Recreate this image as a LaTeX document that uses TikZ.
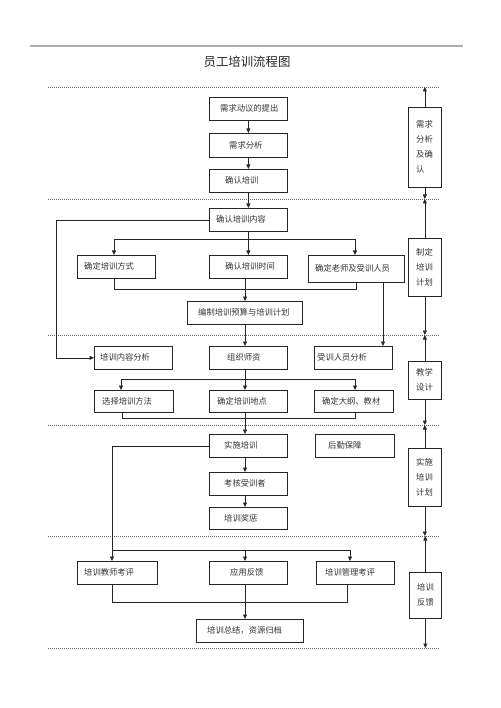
\documentclass[tikz,border=0pt]{standalone}
\usepackage{fontspec}
\newfontfamily\cjk{Noto Sans CJK SC}
\usetikzlibrary{arrows.meta,calc}
\tikzset{
 box/.style={draw=black!85, line width=0.7pt, inner sep=0pt, anchor=north west},
 lbl/.style={font=\cjk\fontsize{8.3}{15}\selectfont, text=black!80, anchor=west, inner sep=0pt},
 slbl/.style={lbl, align=left},
 arr/.style={-{Triangle[length=4.5pt,width=4pt]}, line width=0.6pt, draw=black!85},
 ln/.style={line width=0.6pt, draw=black!85},
 sep/.style={draw=black!60, line width=0.6pt, dash pattern=on 1pt off 1pt},
}
\newcommand\bx[7]{\node[box, minimum width={#4-#2}, minimum height={#5-#3}] (#1) at (#2,#3) {};
 \node[lbl] (#1t) at (#6,{(#3+#5)/2}) {#7};}
\newcommand\sbx[6]{\node[box, minimum width={#4-#2}, minimum height={#5-#3}] (#1) at (#2,#3) {};
 \node[slbl] (#1t) at ({#2+8},{(#3+#5)/2}) {#6};}
\begin{document}
\begin{tikzpicture}[x=1pt,y=-1pt]
\useasboundingbox (0,0) rectangle (500,708);
% top rule and title
\coordinate (tl) at (30,46); \coordinate (tr) at (463,46);
\draw[gray!65, line width=1.6pt] (tl) -- (tr);
\node[font=\cjk\fontsize{12.4}{14}\selectfont, text=black!85] (title) at (247,62) {员工培训流程图};
% dashed separators
\foreach \n/\y in {0/87,1/199,2/335,3/425,4/536,5/648}{
  \coordinate (d\n l) at (48,\y); \coordinate (d\n) at (440,\y);
  \draw[sep] (d\n l) -- (d\n);
}
% section 1
\bx{b1}{209}{97}{287}{120}{220}{需求动议的提出}
\bx{b2}{209}{133}{287}{157}{229}{需求分析}
\bx{b3}{209}{169}{287}{192}{225}{确认培训}
% section 2
\bx{b4}{209}{208}{287}{231}{216}{确认培训内容}
\bx{b5}{77}{255}{155}{278}{84}{确定培训方式}
\bx{b6}{209}{255}{287}{278}{225}{确认培训时间}
\bx{b7}{308}{255}{404}{282}{315}{确定老师及受训人员}
\bx{b8}{187}{301}{302}{324}{198}{编制培训预算与培训计划}
% section 3
\bx{c1}{94}{346}{172}{369}{100}{培训内容分析}
\bx{c2}{209}{346}{287}{369}{227}{组织师资}
\bx{c3}{314}{346}{392}{369}{317}{受训人员分析}
\bx{e1}{94}{390}{173}{412}{102}{选择培训方法}
\bx{e2}{209}{390}{287}{412}{217}{确定培训地点}
\bx{e3}{314}{390}{393}{412}{322}{确定大纲、教材}
% section 4
\bx{f1}{209}{434}{287}{457}{224}{实施培训}
\bx{f2}{315}{434}{394}{457}{328}{后勤保障}
\bx{f3}{209}{472}{287}{495}{224}{考核受训者}
\bx{f4}{209}{507}{287}{529}{224}{培训奖惩}
% section 5
\bx{g1}{77}{561}{157}{584}{84}{培训教师考评}
\bx{g2}{209}{561}{287}{584}{230}{应用反馈}
\bx{g3}{316}{561}{394}{584}{325}{培训管理考评}
\bx{h1}{196}{619}{303}{642}{207}{培训总结，资源归档}
% side boxes
\sbx{s1}{408}{107}{441}{187}{需求\\分析\\及确\\认}
\sbx{s2}{408}{238}{441}{296}{制定\\培训\\计划}
\sbx{s3}{408}{361}{441}{399}{教学\\设计}
\sbx{s4}{408}{448}{441}{506}{实施\\培训\\计划}
\sbx{s5}{409}{572}{441}{618}{培训\\反馈}
% side arrows
\draw[arr] (s1.north) -- (s1.north |- d0);
\draw[arr] (s1.south) -- (s1.south |- d1);
\draw[arr] (s2.north) -- (s2.north |- d1);
\draw[arr] (s2.south) -- (s2.south |- d2);
\draw[arr] (s3.north) -- (s3.north |- d2);
\draw[arr] (s3.south) -- (s3.south |- d3);
\draw[arr] (s4.north) -- (s4.north |- d3);
\draw[arr] (s4.south) -- (s4.south |- d4);
\draw[arr] (s5.north) -- (s5.north |- d4);
\draw[arr] (s5.south) -- (s5.south |- d5);
% section 1 flow
\draw[arr] (b1.south) -- (b2.north);
\draw[arr] (b2.south) -- (b3.north);
\draw[arr] (b3.south) -- (b4.north);
% section 2 flow
\coordinate (j1) at (114,239); \coordinate (j2) at (355,239);
\draw[ln] (j1) -- (j2);
\draw[arr] (b4.south) -- (b6.north);
\draw[arr] (j1) -- (j1 |- b5.north);
\draw[arr] (j2) -- (j2 |- b7.north);
\coordinate (m1) at (114,289); \coordinate (m2) at (356,289);
\draw[ln] (m1 |- b5.south) -- (m1) -- (m2) -- (m2 |- b7.south);
\coordinate (k0) at (245,0);
\draw[arr] (b6.south -| k0) -- (b8.north -| k0);
\draw[arr] (b8.south -| k0) -- (c2.north -| k0);
\coordinate (k1) at (383,0);
\draw[arr] (b7.south -| k1) -- (c3.north -| k1);
\coordinate (L1) at (56,0);
\draw[arr] (b4.west) -- (b4.west -| L1) |- (c1.west);
% section 3 flow
\coordinate (j3) at (121,379); \coordinate (j4) at (355,379);
\draw[ln] (j3) -- (j4);
\draw[arr] (c2.south -| k0) -- (e2.north -| k0);
\draw[arr] (j3) -- (j3 |- e1.north);
\draw[arr] (j4) -- (j4 |- e3.north);
\coordinate (m3) at (122,418); \coordinate (m4) at (355,418);
\draw[ln] (m3 |- e1.south) -- (m3) -- (m4) -- (m4 |- e3.south);
\draw[arr] (e2.south -| k0) -- (f1.north -| k0);
% section 4 flow
\draw[arr] (f1.south -| k0) -- (f3.north -| k0);
\draw[arr] (f3.south -| k0) -- (f4.north -| k0);
\coordinate (L2) at (112,0);
\draw[arr] (f1.west) -- (f1.west -| L2) -- (L2 |- g1.north);
% section 5 flow
\coordinate (j5) at (112,550); \coordinate (j6) at (350,550);
\draw[ln] (j5) -- (j6);
\draw[arr] (j5 -| k0) -- (g2.north -| k0);
\draw[arr] (j6) -- (j6 |- g3.north);
\coordinate (m5) at (112,602); \coordinate (m6) at (347,602);
\draw[ln] (m5 |- g1.south) -- (m5) -- (m6) -- (m6 |- g3.south);
\draw[arr] (g2.south -| k0) -- (h1.north -| k0);
\end{tikzpicture}
\end{document}
